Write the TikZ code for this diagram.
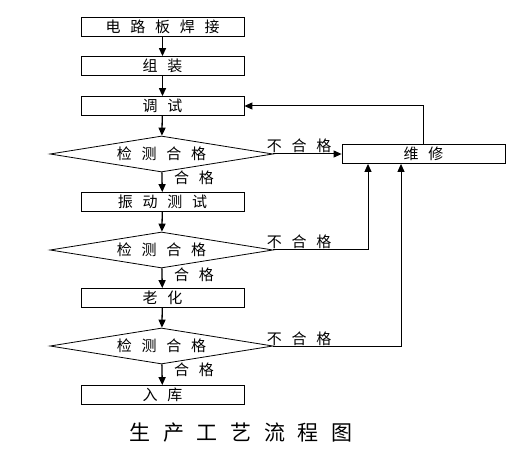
\documentclass[tikz,border=0pt]{standalone}
\usepackage{fontspec}
\setmainfont{Noto Sans CJK SC}
\usepackage{tikz}
\usetikzlibrary{arrows.meta,shapes.geometric}

\begin{document}
\begin{tikzpicture}[
    x=1pt, y=-1pt,
    every node/.style={
        font=\fontsize{15}{17}\selectfont\addfontfeature{LetterSpace=65},
        text=black,
        inner sep=0pt
    },
    procbox/.style={
        draw=black,
        line width=0.8pt,
        minimum width=163pt,
        minimum height=19pt
    },
    checkbox/.style={
        draw=black,
        line width=0.8pt,
        diamond,
        aspect=6.2,
        minimum width=223pt,
        minimum height=36pt
    },
    flow/.style={
        draw=black,
        line width=1.3pt,
        -{Triangle[length=8pt,width=7pt]}
    },
    back/.style={
        draw=black,
        line width=1pt,
        -{Triangle[length=8pt,width=7pt]}
    }
]
\useasboundingbox (0,0) rectangle (527,470);

\node[procbox] (weld) at (162.5,27) {电路板焊接};
\node[procbox] (asm) at (162.5,66) {组装};
\node[procbox] (tune) at (162.5,106) {调试};

\node[checkbox] (chk1) at (161.5,154) {检测合格};
\node[procbox] (shake) at (162.5,202) {振动测试};

\node[checkbox] (chk2) at (161.5,250) {检测合格};
\node[procbox] (age) at (162.5,298) {老化};

\node[checkbox] (chk3) at (161.5,346) {检测合格};
\node[procbox] (store) at (162.5,395) {入库};

\node[procbox] (fix) at (423.5,154) {维修};

% main line
\draw[flow] (weld)--(asm);
\draw[flow] (asm)--(tune);
\draw[flow] (tune)--(chk1);
\draw[flow] (chk1)--(shake);
\draw[flow] (shake)--(chk2);
\draw[flow] (chk2)--(age);
\draw[flow] (age)--(chk3);
\draw[flow] (chk3)--(store);

% repair loop
\draw[back] (chk1.east)--(fix.west);
\draw[back] (chk2.east) -| ([xshift=-55.5pt]fix.south);
\draw[back] (chk3.east) -| ([xshift=-22.5pt]fix.south);
\draw[back] (fix.north) |- (tune.east);

\node (bad1) at (299,146) {不合格};
\node (bad2) at (299,242) {不合格};
\node (bad3) at (299,339) {不合格};

\node (ok1) at (194,178) {合格};
\node (ok2) at (194,275) {合格};
\node (ok3) at (194,370) {合格};

\node[font=\fontsize{21}{23}\selectfont\addfontfeature{LetterSpace=60}] (title) at (241,433) {生产工艺流程图};

\end{tikzpicture}
\end{document}
